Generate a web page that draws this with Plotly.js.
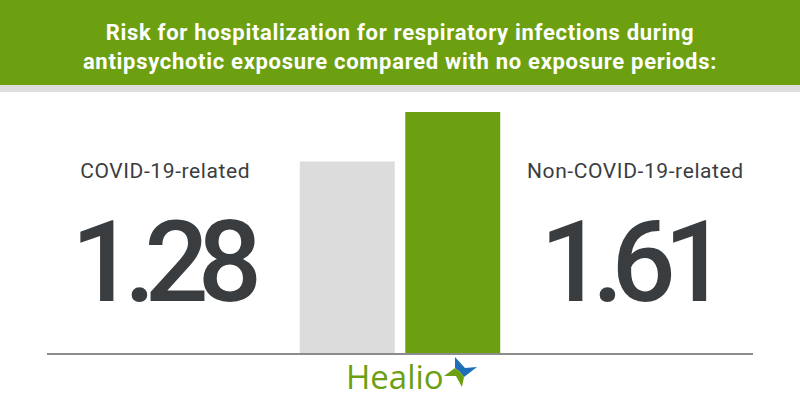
<!DOCTYPE html>
<html>
<head>
<meta charset="utf-8">
<script src="https://cdn.plot.ly/plotly-3.0.1.min.js"></script>
<style>
  html, body { margin: 0; padding: 0; background: #ffffff; }
  #chart { width: 800px; height: 420px; }
  .annotation[data-index="1"] .annotation-text { letter-spacing: -11px; }
  .annotation[data-index="3"] .annotation-text { letter-spacing: -12px; }
  .annotation[data-index="0"] .annotation-text,
  .annotation[data-index="2"] .annotation-text { letter-spacing: 0.6px; }
  .gtitle { letter-spacing: 0.7px; }
</style>
</head>
<body>
<div id="chart"></div>
<script>
// ---- data ----
const categories = ["COVID-19-related", "Non-COVID-19-related"];
const riskValues = [1.28, 1.61];
const barColors = ["#dcdcdc", "#6ca011"];
const titleLines = [
  "Risk for hospitalization for respiratory infections during",
  "antipsychotic exposure compared with no exposure periods:"
];
const brandName = "Healio";

// ---- layout helpers (pixel -> paper) ----
const plotLeft = 47, plotRight = 753, plotTop = 100, plotBottom = 353;
const pw = plotRight - plotLeft, ph = plotBottom - plotTop;
const px = x => (x - plotLeft) / pw;
const py = y => (plotBottom - y) / ph;

const trace = {
  type: "bar",
  x: categories,
  y: riskValues,
  width: 0.9,
  marker: { color: barColors, line: { width: 0 } },
  hoverinfo: "skip"
};

const darkText = "#3a3d40";
const labelFont = { family: "Roboto, 'Noto Sans', sans-serif", size: 21, color: darkText };
const bigFont = { family: "Roboto, 'Noto Sans', sans-serif", size: 113, color: darkText, weight: 500 };

const star = {
  c: [460, 372], top: [455, 357], right: [477, 367], bottom: [462, 387], left: [444, 376],
  ne: [465, 368], se: [464, 377], sw: [456, 376], nw: [455, 368]
};
const P = p => px(p[0]).toFixed(4) + "," + py(p[1]).toFixed(4);
const bluePath = "M" + P(star.nw) + " L" + P(star.top) + " L" + P(star.ne) + " L" + P(star.right) + " L" + P(star.se) + " L" + P(star.c) + " Z";
const greenPath = "M" + P(star.se) + " L" + P(star.bottom) + " L" + P(star.sw) + " L" + P(star.left) + " L" + P(star.nw) + " L" + P(star.c) + " Z";

const layout = {
  width: 800, height: 420,
  margin: { l: plotLeft, r: 800 - plotRight, t: plotTop, b: 420 - plotBottom, pad: 0 },
  paper_bgcolor: "#ffffff",
  plot_bgcolor: "#ffffff",
  showlegend: false,
  title: {
    text: titleLines.join("<br>"),
    font: { family: "Roboto, 'Noto Sans', sans-serif", size: 22, color: "#ffffff", weight: 700 },
    x: 0.5, xanchor: "center", xref: "paper",
    y: 1 - 40 / 420, yanchor: "middle", yref: "container"
  },
  xaxis: {
    range: [-2.846, 3.846],
    showticklabels: false, ticks: "", showgrid: false, zeroline: false,
    showline: true, linecolor: "#8c8c8c", linewidth: 2, layer: "below traces",
    fixedrange: true
  },
  yaxis: {
    range: [0, 1.69],
    visible: false, showgrid: false, zeroline: false, fixedrange: true
  },
  shapes: [
    { type: "rect", xref: "paper", yref: "paper", x0: -0.1, x1: 1.1, y0: py(85), y1: py(-5),
      fillcolor: "#6ca011", line: { width: 0 }, layer: "below" },
    { type: "rect", xref: "paper", yref: "paper", x0: -0.1, x1: 1.1, y0: py(92), y1: py(85),
      fillcolor: "#dedede", line: { width: 0 }, layer: "below" },
    { type: "path", xref: "paper", yref: "paper", path: bluePath, fillcolor: "#1e6fb9", line: { width: 0 } },
    { type: "path", xref: "paper", yref: "paper", path: greenPath, fillcolor: "#6ca011", line: { width: 0 } }
  ],
  annotations: [
    { text: categories[0], xref: "paper", yref: "paper", x: px(165), y: py(171),
      xanchor: "center", yanchor: "middle", showarrow: false, font: labelFont },
    { text: riskValues[0].toFixed(2), xref: "paper", yref: "paper", x: px(161), y: py(262),
      xanchor: "center", yanchor: "middle", showarrow: false, font: bigFont },
    { text: categories[1], xref: "paper", yref: "paper", x: px(635), y: py(171),
      xanchor: "center", yanchor: "middle", showarrow: false, font: labelFont },
    { text: riskValues[1].toFixed(2), xref: "paper", yref: "paper", x: px(628), y: py(262),
      xanchor: "center", yanchor: "middle", showarrow: false, font: bigFont },
    { text: brandName, xref: "paper", yref: "paper", x: px(395), y: py(376),
      xanchor: "center", yanchor: "middle", showarrow: false,
      font: { family: "'Open Sans', Lato, sans-serif", size: 33, color: "#6ca011", weight: 500 } }
  ]
};

Plotly.newPlot("chart", [trace], layout, { staticPlot: true, displayModeBar: false });
</script>
</body>
</html>
